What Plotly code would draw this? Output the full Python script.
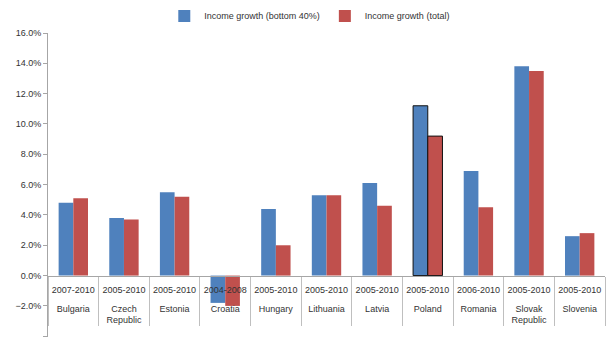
import plotly.graph_objects as go

countries = ["Bulgaria", "Czech<br>Republic", "Estonia", "Croatia", "Hungary", "Lithuania",
             "Latvia", "Poland", "Romania", "Slovak<br>Republic", "Slovenia"]
periods = ["2007-2010", "2005-2010", "2005-2010", "2004-2008", "2005-2010", "2005-2010",
           "2005-2010", "2005-2010", "2006-2010", "2005-2010", "2005-2010"]
bottom40 = [4.8, 3.8, 5.5, -1.8, 4.4, 5.3, 6.1, 11.2, 6.9, 13.8, 2.6]
total = [5.1, 3.7, 5.2, -2.0, 2.0, 5.3, 4.6, 9.2, 4.5, 13.5, 2.8]
outline = [1 if c == "Poland" else 0 for c in countries]

x = [countries, [p + "<br> " for p in periods]]
fig = go.Figure()
fig.add_trace(go.Bar(x=x, y=[v / 100 for v in bottom40], name="Income growth (bottom 40%)",
                     marker=dict(color="#4F81BD", line=dict(color="#111111", width=outline))))
fig.add_trace(go.Bar(x=x, y=[v / 100 for v in total], name="Income growth (total)",
                     marker=dict(color="#C0504D", line=dict(color="#111111", width=outline))))

fig.update_layout(
    width=607, height=337,
    margin=dict(l=48, r=2, t=33, b=0, autoexpand=False),
    paper_bgcolor="white", plot_bgcolor="white",
    barmode="group", bargap=0.42, bargroupgap=0,
    font=dict(family="Liberation Sans, Arial, sans-serif", size=9, color="#333333"),
    legend=dict(orientation="h", x=0.47, xanchor="center", y=1.056, yanchor="middle",
                font=dict(size=9), itemwidth=30, tracegroupgap=0),
    xaxis=dict(type="multicategory", anchor="free", position=0.2, automargin=False,
               showline=True, linecolor="#A6A6A6", linewidth=1, tickangle=0,
               ticklabelstandoff=5,
               showdividers=True, dividercolor="#BFBFBF", dividerwidth=1,
               ticks="", tickfont=dict(size=9, color="#333333"), showgrid=False),
    yaxis=dict(range=[-0.0405, 0.16], dtick=0.02, tickformat=".1%", showgrid=False,
               automargin=False,
               zeroline=False, showline=True, linecolor="#A6A6A6", linewidth=1,
               ticks="outside", ticklen=4, tickcolor="#A6A6A6",
               tickfont=dict(size=9, color="#333333")),
)
fig.write_html("out.html")
